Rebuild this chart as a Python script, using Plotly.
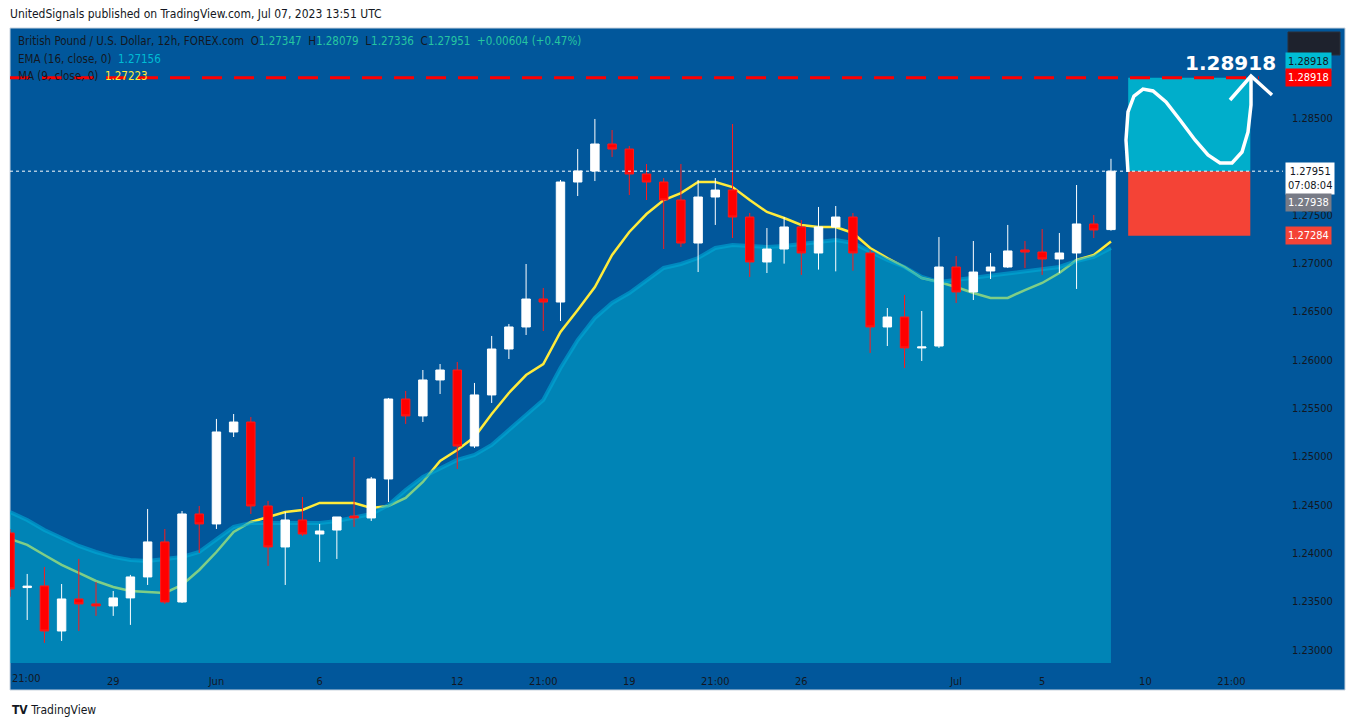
import plotly.graph_objects as go

# ---------------- data ----------------
opens  = [1.24210,1.23645,1.23662,1.23196,1.23527,1.23476,1.23455,1.23538,1.23755,1.24117,
          1.23496,1.24406,1.24303,1.25254,1.25357,1.24489,1.24065,1.24344,1.24199,1.24240,
          1.24385,1.24365,1.24768,1.25595,1.25420,1.25792,1.25895,1.25109,1.25637,1.26112,
          1.26340,1.26629,1.26598,1.27839,1.27953,1.28232,1.28180,1.27922,1.27839,1.27653,
          1.27208,1.27684,1.27756,1.27477,1.27012,1.27146,1.27374,1.27105,1.27374,1.27477,
          1.27105,1.26340,1.26443,1.26123,1.26143,1.26960,1.26702,1.26919,1.26960,1.27136,
          1.27115,1.27043,1.27105,1.27405,1.27347]
highs  = [1.24250,1.23786,1.23858,1.23682,1.23941,1.23703,1.23610,1.23776,1.24458,1.24251,
          1.24437,1.24489,1.25389,1.25440,1.25409,1.24541,1.24427,1.24582,1.24303,1.24375,
          1.24996,1.24789,1.25606,1.25678,1.25895,1.25957,1.25978,1.25761,1.26247,1.26371,
          1.26991,1.26743,1.27860,1.28180,1.28491,1.28377,1.28211,1.28025,1.27880,1.28025,
          1.27860,1.27880,1.28439,1.27519,1.27363,1.27477,1.27446,1.27581,1.27591,1.27519,
          1.27136,1.26536,1.26671,1.26505,1.27270,1.27074,1.27229,1.27105,1.27395,1.27229,
          1.27353,1.27312,1.27808,1.27498,1.28079]
lows   = [1.23550,1.23310,1.23073,1.23093,1.23196,1.23352,1.23352,1.23259,1.23672,1.23476,
          1.23486,1.24003,1.24251,1.25202,1.24406,1.23869,1.23672,1.24179,1.23910,1.23941,
          1.24272,1.24334,1.24530,1.25337,1.25357,1.25647,1.24872,1.25089,1.25554,1.26009,
          1.26257,1.26298,1.26402,1.27694,1.27849,1.28098,1.27705,1.27653,1.27146,1.27167,
          1.26908,1.27395,1.27260,1.26857,1.26898,1.26995,1.26878,1.26933,1.26915,1.26922,
          1.26071,1.26143,1.25916,1.25988,1.26123,1.26588,1.26619,1.26836,1.26950,1.26950,
          1.26878,1.26898,1.26733,1.27260,1.27336]
closes = [1.23631,1.23660,1.23196,1.23527,1.23476,1.23455,1.23538,1.23755,1.24117,1.23496,
          1.24406,1.24303,1.25254,1.25357,1.24489,1.24065,1.24344,1.24199,1.24230,1.24375,
          1.24365,1.24768,1.25595,1.25420,1.25792,1.25895,1.25109,1.25637,1.26112,1.26340,
          1.26629,1.26598,1.27839,1.27953,1.28232,1.28180,1.27922,1.27839,1.27653,1.27208,
          1.27684,1.27756,1.27477,1.27012,1.27146,1.27374,1.27105,1.27374,1.27477,1.27105,
          1.26340,1.26443,1.26123,1.26133,1.26960,1.26702,1.26908,1.26960,1.27126,1.27115,
          1.27043,1.27105,1.27405,1.27343,1.27951]
ema16 = [1.24427,1.24344,1.24241,1.24158,1.24075,1.24013,1.23962,1.23931,1.23920,1.23941,
         1.23962,1.24013,1.24137,1.24272,1.24313,1.24313,1.24313,1.24303,1.24313,1.24334,
         1.24365,1.24406,1.24499,1.24654,1.24789,1.24882,1.24965,1.25016,1.25120,1.25275,
         1.25430,1.25585,1.25916,1.26205,1.26433,1.26588,1.26691,1.26815,1.26950,1.26991,
         1.27053,1.27157,1.27188,1.27177,1.27167,1.27177,1.27198,1.27219,1.27239,1.27208,
         1.27115,1.27033,1.26960,1.26857,1.26805,1.26826,1.26846,1.26877,1.26898,1.26919,
         1.26940,1.26960,1.27022,1.27064,1.27156]
ma9 = [1.24148,1.24086,1.23982,1.23879,1.23796,1.23713,1.23651,1.23610,1.23600,1.23589,
       1.23672,1.23827,1.24013,1.24220,1.24323,1.24375,1.24427,1.24448,1.24520,1.24520,
       1.24520,1.24468,1.24489,1.24572,1.24737,1.24954,1.25068,1.25202,1.25440,1.25657,
       1.25843,1.25957,1.26288,1.26516,1.26753,1.27084,1.27322,1.27508,1.27653,1.27725,
       1.27839,1.27839,1.27787,1.27653,1.27529,1.27467,1.27395,1.27374,1.27374,1.27312,
       1.27157,1.27053,1.26960,1.26846,1.26805,1.26753,1.26691,1.26640,1.26640,1.26722,
       1.26795,1.26898,1.27033,1.27084,1.27223]
x_tick_pos = [6, 12, 18, 26, 31, 36, 41, 46, 55, 60, 66, 71]
x_tick_text = ["29", "Jun", "6", "12", "21:00", "19", "21:00", "26", "Jul", "5", "10", "21:00"]
first_tick_text = "21:00"
y_ticks = [1.230, 1.235, 1.240, 1.245, 1.250, 1.255, 1.260, 1.265, 1.270, 1.275, 1.285]
target_price = 1.28918
entry_price = 1.27951
stop_price = 1.27284
prev_close_label = 1.27938
box_start, box_end = 65.0, 72.1

idx = list(range(len(opens)))

BG = "#01579B"
FONT = "DejaVu Sans Condensed, Liberation Sans, Arial"
OFF = 8  # page body margin
W, H = 1355 - OFF, 727 - OFF
L, R, T, B = 10 - OFF, 72, 30 - OFF, 64
PW, PH = W - L - R, H - T - B
XR = [0, 74]
YR = [1.22865, 1.29411]

def px(xp):  # reference pixel -> paper x
    return (xp - OFF - L) / PW

def py(yp):
    return (H - B - (yp - OFF)) / PH

fig = go.Figure()

fig.add_trace(go.Scatter(x=idx, y=ma9, mode="lines",
                         line=dict(color="#FFEB3B", width=2.5), hoverinfo="skip"))
fig.add_trace(go.Scatter(x=idx, y=ema16, mode="lines", fill="tozeroy",
                         fillcolor="rgba(0,178,210,0.5)",
                         line=dict(color="rgba(0,170,215,0.6)", width=4), hoverinfo="skip"))
fig.add_trace(go.Candlestick(x=idx, open=opens, high=highs, low=lows, close=closes,
                             xaxis="x2", yaxis="y2",
                             increasing=dict(fillcolor="#FFFFFF", line=dict(color="#FFFFFF", width=1)),
                             decreasing=dict(fillcolor="#FF0000", line=dict(color="#FF1A1A", width=1)),
                             whiskerwidth=0, hoverinfo="skip"))

shapes = []
shapes.append(dict(type="rect", xref="paper", yref="paper", x0=px(10), x1=px(1345),
                   y0=py(690), y1=py(28), fillcolor=BG, line=dict(color="#C9D3DE", width=1), layer="below"))
shapes.append(dict(type="rect", xref="x", yref="y", x0=box_start, x1=box_end, y0=entry_price,
                   y1=target_price, fillcolor="#00AECB", line=dict(width=0), layer="above"))
shapes.append(dict(type="rect", xref="x", yref="y", x0=box_start, x1=box_end, y0=stop_price,
                   y1=entry_price, fillcolor="#F44336", line=dict(width=0), layer="above"))
shapes.append(dict(type="line", xref="x", yref="y", x0=0, x1=72.6, y0=target_price, y1=target_price,
                   line=dict(color="#FF0000", width=3, dash="20px,12px")))
shapes.append(dict(type="line", xref="x", yref="y", x0=0, x1=74, y0=entry_price, y1=entry_price,
                   line=dict(color="#FFFFFF", width=1, dash="dot")))
curve = [(1128, 172), (1126, 140), (1128, 112), (1134, 96), (1143, 89), (1153, 91), (1166, 102),
         (1180, 120), (1195, 140), (1208, 155), (1220, 163), (1232, 163), (1242, 152),
         (1248, 132), (1251, 105), (1251, 78)]
path = "M " + " L ".join(f"{px(a):.5f},{py(b):.5f}" for a, b in curve)
shapes.append(dict(type="path", xref="paper", yref="paper", path=path,
                   line=dict(color="#FFFFFF", width=3.5)))
arrow = f"M {px(1230):.5f},{py(100):.5f} L {px(1251):.5f},{py(76):.5f} L {px(1272):.5f},{py(95):.5f}"
shapes.append(dict(type="path", xref="paper", yref="paper", path=arrow, line=dict(color="#FFFFFF", width=3.5)))
shapes.append(dict(type="rect", xref="paper", yref="paper", x0=px(1288), x1=px(1340),
                   y0=py(55), y1=py(32), fillcolor="#1E222D", line=dict(color="#2A2E39", width=1)))

ann = []
ann.append(dict(xref="paper", yref="paper", x=px(8), y=py(14), xanchor="left", yanchor="middle",
                text="UnitedSignals published on TradingView.com, Jul 07, 2023 13:51 UTC",
                showarrow=False, font=dict(size=12, color="#131722", family=FONT)))
teal = "#26C6A0"
ann.append(dict(xref="paper", yref="paper", x=px(16), y=py(41), xanchor="left", yanchor="middle",
                text=("British Pound / U.S. Dollar, 12h, FOREX.com  O<span style='color:%s'>1.27347</span>"
                      "  H<span style='color:%s'>1.28079</span>  L<span style='color:%s'>1.27336</span>"
                      "  C<span style='color:%s'>1.27951</span>  <span style='color:%s'>+0.00604 (+0.47%%)</span>")
                     % (teal, teal, teal, teal, teal),
                showarrow=False, font=dict(size=11.5, color="#131722", family=FONT)))
ann.append(dict(xref="paper", yref="paper", x=px(16), y=py(59), xanchor="left", yanchor="middle",
                text="EMA (16, close, 0)  <span style='color:#00BCD4'>1.27156</span>",
                showarrow=False, font=dict(size=11.5, color="#131722", family=FONT)))
ann.append(dict(xref="paper", yref="paper", x=px(16), y=py(76), xanchor="left", yanchor="middle",
                text="MA (9, close, 0)  <span style='color:#FFEB3B'>1.27223</span>",
                showarrow=False, font=dict(size=11.5, color="#131722", family=FONT)))
ann.append(dict(xref="paper", yref="paper", x=px(1278), y=py(63), xanchor="right", yanchor="middle",
                text="<b>1.28918</b>", showarrow=False,
                font=dict(size=20, color="#FFFFFF", family="DejaVu Sans")))
ann.append(dict(xref="paper", yref="paper", x=px(10), y=py(678), xanchor="left", yanchor="middle",
                text=first_tick_text, showarrow=False,
                font=dict(size=11, color="#131722", family=FONT)))

def price_label(yv, text, bg, fg, yshift=0):
    ann.append(dict(xref="paper", yref="y", x=px(1285), y=yv, xanchor="left", yanchor="middle",
                    text=text, showarrow=False, bgcolor=bg, font=dict(size=11, color=fg, family=FONT),
                    borderpad=2, yshift=yshift))

price_label(target_price, "1.28918", "#00BCD4", "#131722", yshift=16)
price_label(target_price, "1.28918", "#FF0000", "#FFFFFF")
price_label(entry_price, "1.27951<br>07:08:04", "#FFFFFF", "#131722", yshift=-7)
price_label(prev_close_label, "1.27938", "#787B86", "#FFFFFF", yshift=-30)
price_label(stop_price, "1.27284", "#F44336", "#FFFFFF")

ann.append(dict(xref="paper", yref="paper", x=px(10), y=py(710), xanchor="left", yanchor="middle",
                text="<b>TV</b> TradingView", showarrow=False,
                font=dict(size=12, color="#131722", family=FONT)))

fig.update_layout(
    width=W, height=H, margin=dict(l=L, r=R, t=T, b=B),
    paper_bgcolor="#FFFFFF", plot_bgcolor=BG, showlegend=False,
    shapes=shapes, annotations=ann,
    xaxis=dict(range=XR, tickmode="array", tickvals=x_tick_pos, ticktext=x_tick_text,
               showgrid=False, zeroline=False, ticks="",
               tickfont=dict(size=11, color="#131722", family=FONT), ticklabelstandoff=10),
    yaxis=dict(range=YR, side="right", tickmode="array", tickvals=y_ticks,
               ticktext=[f"{v:.5f}" for v in y_ticks], showgrid=False, zeroline=False, ticks="",
               tickfont=dict(size=11, color="#131722", family=FONT), ticklabelstandoff=8),
    xaxis2=dict(range=XR, overlaying="x", visible=False, rangeslider=dict(visible=False)),
    yaxis2=dict(range=YR, overlaying="y", visible=False),
)

fig.write_html("out.html")
